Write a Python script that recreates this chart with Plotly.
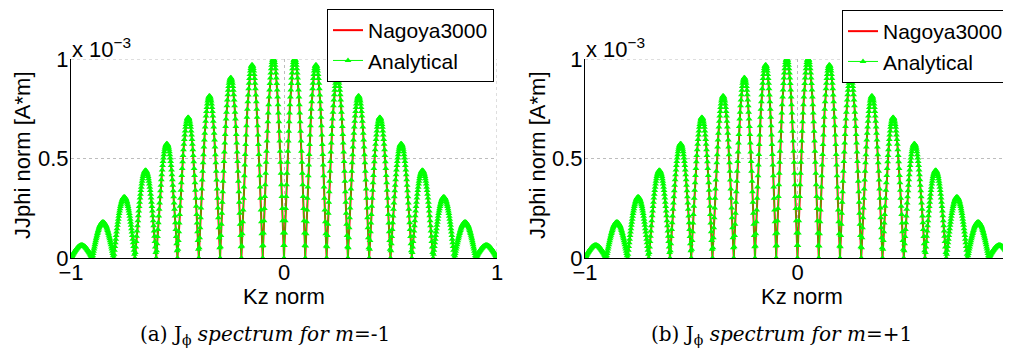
import numpy as np
import plotly.graph_objects as go

# ---------------- data ----------------
# lobe centres in normalised Kz (zeros at multiples of 0.1)
lobe_centers = [-0.95, -0.85, -0.75, -0.65, -0.55, -0.45, -0.35, -0.25, -0.15, -0.05,
                0.05, 0.15, 0.25, 0.35, 0.45, 0.55, 0.65, 0.75, 0.85, 0.95]
# lobe peak heights, in units of 1e-3 A*m
peaks_a = [0.064, 0.18, 0.306, 0.44, 0.574, 0.706, 0.814, 0.906, 0.97, 1.0,
           1.0, 0.97, 0.906, 0.814, 0.706, 0.574, 0.44, 0.306, 0.18, 0.064]
peaks_b = [0.064, 0.18, 0.306, 0.44, 0.574, 0.706, 0.814, 0.906, 0.97, 1.0,
           1.0, 0.97, 0.906, 0.814, 0.706, 0.574, 0.44, 0.306, 0.18, 0.064]
lobe_width = 0.1
scale = 1e-3
ytick_vals = [0.0, 0.5e-3, 1.0e-3]
ytick_text = ["0", "0.5", "1"]
xtick_vals = [-1, 0, 1]
xtick_text = ["\u22121", "0", "1"]
series_names = ["Nagoya3000", "Analytical"]
captions = ["(a) J<sub>\u03d5</sub> <i>spectrum for m</i>=-1",
            "(b) J<sub>\u03d5</sub> <i>spectrum for m</i>=+1"]


def spectrum(kz, peaks):
    idx = np.clip(np.floor((kz + 1.0) / lobe_width).astype(int), 0, len(peaks) - 1)
    amp = np.asarray(peaks)[idx]
    return amp * np.abs(np.sin(np.pi * kz / lobe_width)) * scale


kz_num = np.linspace(-1, 1, 3001)
kz_ana = np.linspace(-1, 1, 1001)

# the page body has an 8px margin: size the figure to the remaining window area
OFF = 8
W, H = 1011 - OFF, 354 - OFF


def px(x):  # window pixel -> paper fraction
    return (x - OFF) / W


def py(y):
    return 1 - (y - OFF) / H


fig = go.Figure()

panels = [
    dict(peaks=peaks_a, xa="x", ya="y", legend="legend"),
    dict(peaks=peaks_b, xa="x2", ya="y2", legend="legend2"),
]
for p in panels:
    fig.add_trace(go.Scatter(
        x=kz_num, y=spectrum(kz_num, p["peaks"]), mode="lines",
        line=dict(color="#ff0000", width=2), name=series_names[0],
        xaxis=p["xa"], yaxis=p["ya"], legend=p["legend"]))
    fig.add_trace(go.Scatter(
        x=kz_ana, y=spectrum(kz_ana, p["peaks"]), mode="lines+markers",
        line=dict(color="#00ff00", width=1),
        marker=dict(symbol="triangle-up", size=6, color="#00ff00",
                    line=dict(width=0)),
        name=series_names[1],
        xaxis=p["xa"], yaxis=p["ya"], legend=p["legend"]))

font_sans = "Liberation Sans, Arial, sans-serif"
axis_common = dict(showline=True, linecolor="black", linewidth=1, mirror=False,
                   showgrid=True, gridcolor="#bdbdbd", griddash="dot", gridwidth=1,
                   zeroline=False, ticks="", automargin=False,
                   tickfont=dict(family=font_sans, size=22, color="black"))

y_dom = [py(258), py(59)]
fig.update_layout(
    width=W, height=H, margin=dict(l=0, r=0, t=0, b=0, autoexpand=False),
    paper_bgcolor="white", plot_bgcolor="white",
    xaxis=dict(domain=[px(71), px(497)], range=[-1, 1], anchor="y",
               tickvals=xtick_vals, ticktext=xtick_text, ticklabelstandoff=-5,
               **axis_common),
    yaxis=dict(domain=y_dom, range=[0, 1e-3], anchor="x",
               tickvals=ytick_vals, ticktext=ytick_text, ticklabelstandoff=-3,
               **axis_common),
    xaxis2=dict(domain=[px(585), px(1010)], range=[-1, 1], anchor="y2",
                tickvals=xtick_vals, ticktext=xtick_text, ticklabelstandoff=-5,
                **axis_common),
    yaxis2=dict(domain=y_dom, range=[0, 1e-3], anchor="x2",
                tickvals=ytick_vals, ticktext=ytick_text, ticklabelstandoff=-3,
                **axis_common),
    legend=dict(x=px(494), y=py(9), xanchor="right", yanchor="top",
                bgcolor="white", bordercolor="black", borderwidth=1,
                font=dict(family=font_sans, size=21, color="black"),
                itemwidth=30, tracegroupgap=0),
    legend2=dict(x=px(1009), y=py(10), xanchor="right", yanchor="top",
                 bgcolor="white", bordercolor="black", borderwidth=1,
                 font=dict(family=font_sans, size=21, color="black"),
                 itemwidth=30, tracegroupgap=0),
    showlegend=True,
)

# dotted boundary grid lines (top at y=1e-3 and right at x=1)
shapes = []
for xr, yr in [("x", "y"), ("x2", "y2")]:
    shapes.append(dict(type="line", xref=xr, yref=yr, x0=-1, x1=1, y0=1e-3, y1=1e-3,
                       line=dict(color="#bdbdbd", width=1, dash="dot"), layer="below"))
    shapes.append(dict(type="line", xref=xr, yref=yr, x0=1, x1=1, y0=0, y1=1e-3,
                       line=dict(color="#bdbdbd", width=1, dash="dot"), layer="below"))

annots = []
for xl, xc, xe in [(22, 284, 70), (537, 802, 584)]:
    annots.append(dict(text="JJphi norm [A*m]", x=px(xl), y=py(155), xref="paper",
                       yref="paper", xanchor="center", yanchor="middle",
                       textangle=-90, showarrow=False,
                       font=dict(family=font_sans, size=22, color="black")))
    annots.append(dict(text="Kz norm", x=px(xc), y=py(296), xref="paper", yref="paper",
                       xanchor="center", yanchor="middle", showarrow=False,
                       font=dict(family=font_sans, size=22, color="black")))
    annots.append(dict(text="x 10<sup>\u22123</sup>", x=px(xe), y=py(64), xref="paper",
                       yref="paper", xanchor="left", yanchor="bottom", showarrow=False,
                       font=dict(family=font_sans, size=22, color="black")))
for cap, cx in zip(captions, [265, 781]):
    annots.append(dict(text=cap, x=px(cx), y=py(335), xref="paper", yref="paper",
                       xanchor="center", yanchor="middle", showarrow=False,
                       font=dict(family="DejaVu Serif, serif", size=20, color="black")))
fig.update_layout(annotations=annots, shapes=shapes)

fig.write_html("out.html")
